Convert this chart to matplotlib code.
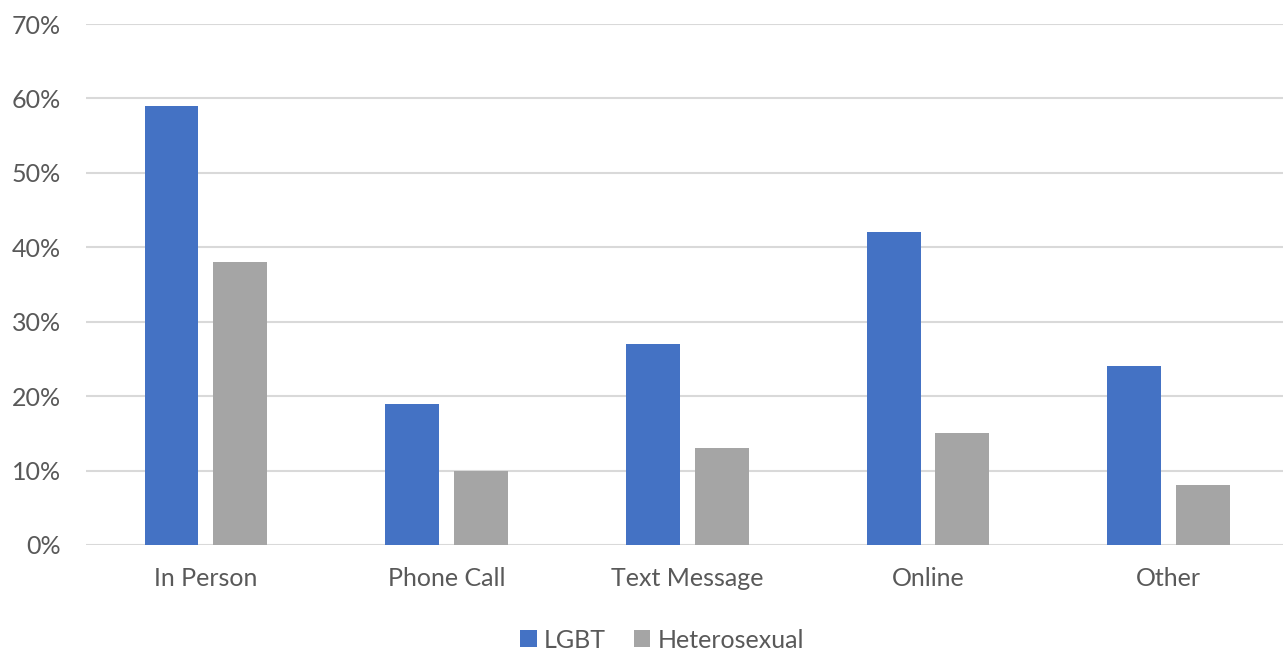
import numpy as np
import matplotlib
matplotlib.use("Agg")
import matplotlib.pyplot as plt
from matplotlib.ticker import FuncFormatter

plt.rcParams['font.family'] = ['Lato', 'DejaVu Sans']

categories = ["In Person", "Phone Call", "Text Message", "Online", "Other"]
lgbt = [59, 19, 27, 42, 24]
hetero = [38, 10, 13, 15, 8]
yticks = [0, 10, 20, 30, 40, 50, 60, 70]

text_col = "#595959"
fig = plt.figure(figsize=(12.83, 6.54), dpi=100)
ax = fig.add_axes([85.6 / 1283, 1 - 545 / 654, (1289 - 85.6) / 1283, (545 - 24) / 654])

x = np.arange(len(categories))
w = 0.224
off = 0.143
b1 = ax.bar(x - off, lgbt, w, color="#4472C4", label="LGBT", zorder=3)
b2 = ax.bar(x + off, hetero, w, color="#A5A5A5", label="Heterosexual", zorder=3)

ax.set_xlim(-0.5, len(categories) - 0.5)
ax.set_ylim(0, 70)
ax.set_yticks(yticks)
ax.yaxis.set_major_formatter(FuncFormatter(lambda v, p: f"{v:.0f}%"))
ax.set_xticks(x)
ax.set_xticklabels(categories)
ax.grid(axis="y", color="#D9D9D9", linewidth=1.5, zorder=0)
ax.set_axisbelow(True)
for s in ax.spines.values():
    s.set_visible(False)
ax.tick_params(axis="both", length=0, labelsize=18, colors=text_col)
ax.tick_params(axis="y", pad=18)
ax.tick_params(axis="x", pad=16)

fig.legend(handles=[b1, b2], loc="center", bbox_to_anchor=(662 / 1283, 1 - 640 / 654),
           ncol=2, frameon=False, fontsize=18, labelcolor=text_col,
           handlelength=0.65, handleheight=0.65, handletextpad=0.3, columnspacing=1.1)

fig.savefig("out.png", dpi=100)
